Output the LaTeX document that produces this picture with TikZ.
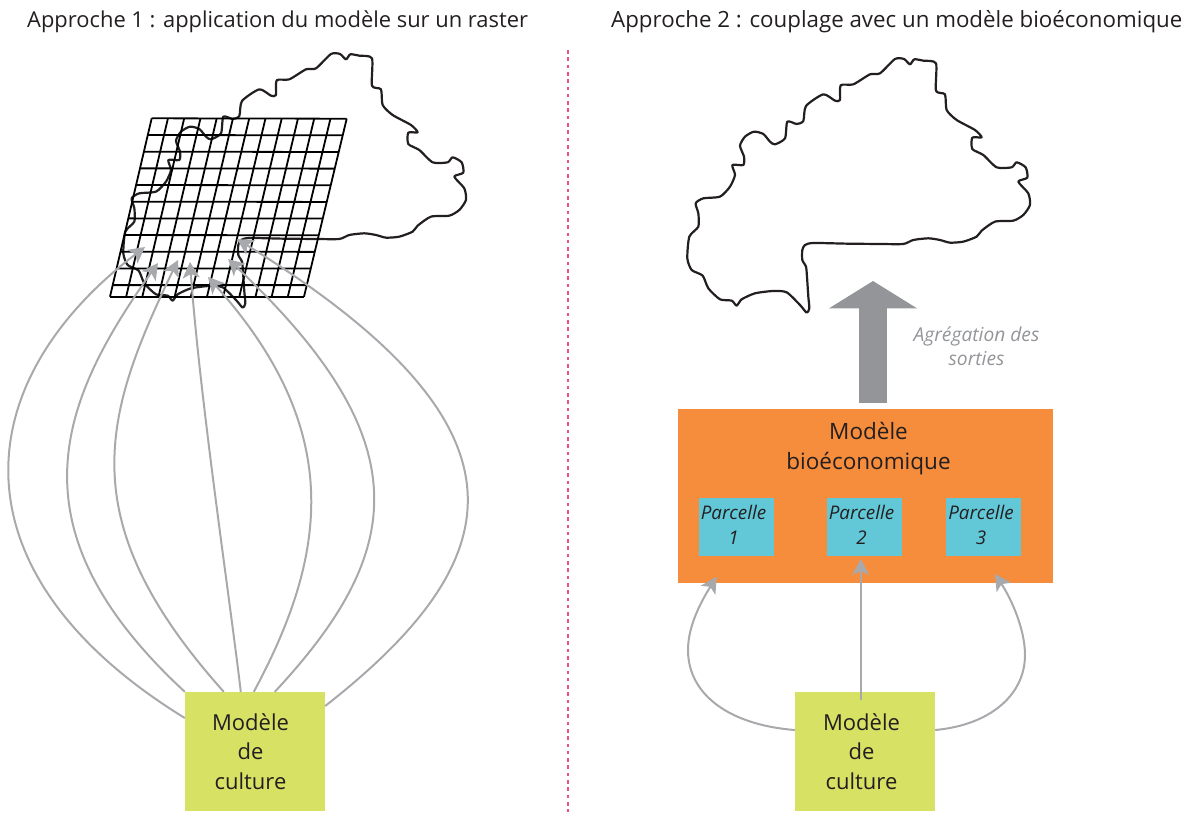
\documentclass[tikz,border=0pt]{standalone}
\usepackage{fontspec}
\setmainfont{Open Sans}
\usetikzlibrary{arrows.meta,calc}
\definecolor{linkgrey}{HTML}{A7A9AC}
\definecolor{bigarrow}{HTML}{939598}
\definecolor{culturegreen}{HTML}{D7E265}
\definecolor{bioorange}{HTML}{F68D3D}
\definecolor{parcelteal}{HTML}{62C8D8}
\definecolor{mapblack}{HTML}{231F20}
\definecolor{sepink}{HTML}{EC4F86}
\newcommand{\mapoutline}{plot[smooth cycle,tension=0.4] coordinates {(380,788) (388,775) (385,740) (381,680) (378,650) (367,630) (367,600) (375,585) (400,579) (500,581) (600,582) (670,582) (700,570) (745,565) (780,570) (810,578) (850,575) (890,560) (905,542) (945,515) (1000,512) (1030,495) (1050,465) (1045,430) (1015,395) (1042,383) (1037,352) (1010,337) (995,352) (950,352) (910,315) (877,297) (877,263) (905,262) (885,240) (830,210) (800,180) (795,133) (768,122) (768,40) (730,32) (703,28) (690,43) (672,27) (645,27) (600,70) (570,73) (520,103) (482,106) (480,150) (465,152) (430,133) (378,168) (370,213) (350,222) (322,215) (315,265) (285,283) (270,275) (250,252) (222,245) (195,260) (180,287) (192,320) (190,345) (157,345) (165,375) (150,410) (120,440) (70,445) (47,460) (55,490) (55,530) (28,560) (22,625) (35,660) (68,677) (85,715) (120,748) (155,752) (170,767) (185,748) (225,730) (280,723) (320,727) (360,765)}}
\tikzset{
  mapline/.style={draw=mapblack,line width=2.2pt,line join=round},
  gridline/.style={draw=black,line width=1.8pt},
  title/.style={anchor=base west,inner sep=0pt,text=mapblack},
  culturebox/.style={fill=culturegreen,minimum width=140pt,minimum height=119pt,inner sep=0pt},
  culturetext/.style={align=center,font=\fontsize{22}{29.5}\selectfont,text=mapblack},
  parcelbox/.style={fill=parcelteal,minimum width=75pt,minimum height=58pt,inner sep=0pt},
  parceltext/.style={align=center,font=\fontsize{18.8}{25.5}\selectfont\itshape,text=mapblack},
  link/.style={draw=linkgrey,line width=2pt,-{Stealth[length=16pt,width=17pt,inset=4pt]}}
}
\begin{document}
\begin{tikzpicture}[x=1pt,y=-1pt]
  \useasboundingbox (0,0) rectangle (1194,812);
  \node[title,font=\fontsize{21.9}{26}\selectfont] (titleA) at (27,27) {Approche 1 : application du modèle sur un raster};
  \node[title,font=\fontsize{22.3}{26}\selectfont] (titleB) at (611,27) {Approche 2 : couplage avec un modèle bioéconomique};
  \coordinate (sepTop) at (567.5,50);
  \coordinate (sepBot) at (567.5,812);
  \draw[draw=sepink,line width=2pt,dash pattern=on 3.6pt off 3.7pt] (sepTop) -- (sepBot);
  % left part
  \draw[mapline,shift={(116,45)},scale=0.3333] \mapoutline;
  \coordinate (gridTL) at (151.7,118.3);
  \coordinate (gridTR) at (346.7,118.7);
  \coordinate (gridBL) at (110,296.7);
  \coordinate (gridBR) at (304,296.7);
  \foreach \i in {0,...,12}
    \draw[gridline] ($(gridTL)!\i/12!(gridTR)$) -- ($(gridBL)!\i/12!(gridBR)$);
  \foreach \i in {0,...,10}
    \draw[gridline] ($(gridTL)!\i*0.0935!(gridBL)$) -- ($(gridTR)!\i*0.0935!(gridBR)$);
  \draw[gridline] (gridBL) -- (gridBR);
  \node[culturebox] (cultureA) at (255,751.5) {};
  \node[culturetext] (cultureTextA) at (250.5,751.5) {Modèle\\de\\culture};
  \coordinate (cellA) at (145,247);
  \coordinate (cellB) at (158,263);
  \coordinate (cellC) at (178,260);
  \coordinate (cellD) at (190,262);
  \coordinate (cellE) at (208,277);
  \coordinate (cellF) at (228,259);
  \coordinate (cellG) at (237,239);
  \draw[link] ([yshift=33.5pt]cultureA.west) .. controls (-48,575) and (-36,385) .. (cellA);
  \draw[link] (cultureA.north west) .. controls (10,530) and (57,405) .. (cellB);
  \draw[link] ([xshift=39pt]cultureA.north west) .. controls (70,520) and (103,416) .. (cellC);
  \draw[link] ([xshift=56pt]cultureA.north west) .. controls (230,600) and (200,400) .. (cellD);
  \draw[link] ([xshift=69pt]cultureA.north west) .. controls (328,554) and (345,430) .. (cellE);
  \draw[link] ([xshift=90pt]cultureA.north west) .. controls (407,550) and (420,440) .. (cellF);
  \draw[link] ([yshift=45.5pt]cultureA.east) .. controls (518,555) and (537,425) .. (cellG);
  % right part
  \draw[mapline,shift={(680,50)},scale=0.3333] \mapoutline;
  \node[fill=bioorange,minimum width=375pt,minimum height=174pt,inner sep=0pt] (bioBox) at (865.5,496) {};
  \node[font=\fontsize{22.5}{30}\selectfont,text=mapblack,align=center] (bioLabel) at (868.5,449) {Modèle\\bioéconomique};
  \node[parcelbox] (parcelA) at (736,527) {};
  \node[parcelbox] (parcelB) at (864.5,527) {};
  \node[parcelbox] (parcelC) at (983.5,527) {};
  \node[parceltext] (parcelTextA) at (733.5,525) {Parcelle\\1};
  \node[parceltext] (parcelTextB) at (861.5,525) {Parcelle\\2};
  \node[parceltext] (parcelTextC) at (981,525) {Parcelle\\3};
  \coordinate (aggStart) at (873,403);
  \coordinate (aggEnd) at (873,281);
  \draw[bigarrow,line width=27.4pt,-{Triangle[length=27.3pt,width=86.7pt]}] (aggStart) -- (aggEnd);
  \node[font=\fontsize{19.2}{24}\selectfont\itshape,text=bigarrow,align=center] (aggLabel) at (976.5,346) {Agrégation des\\sorties};
  \node[culturebox] (cultureB) at (865,751.5) {};
  \node[culturetext] (cultureTextB) at (861.5,751.5) {Modèle\\de\\culture};
  \coordinate (feedA) at (716.7,576.7);
  \coordinate (feedB) at (860.7,559);
  \coordinate (feedC) at (995,574);
  \coordinate (feedStart) at (860.7,700);
  \draw[link] (cultureB.west |- 0,730) .. controls (730,725) and (688,695) .. (688,650) .. controls (688,625) and (702,600) .. (feedA);
  \draw[link] (feedStart) -- (feedB);
  \draw[link] (cultureB.east |- 0,730) .. controls (990,725) and (1025,695) .. (1025,655) .. controls (1025,630) and (1012,600) .. (feedC);
\end{tikzpicture}
\end{document}
